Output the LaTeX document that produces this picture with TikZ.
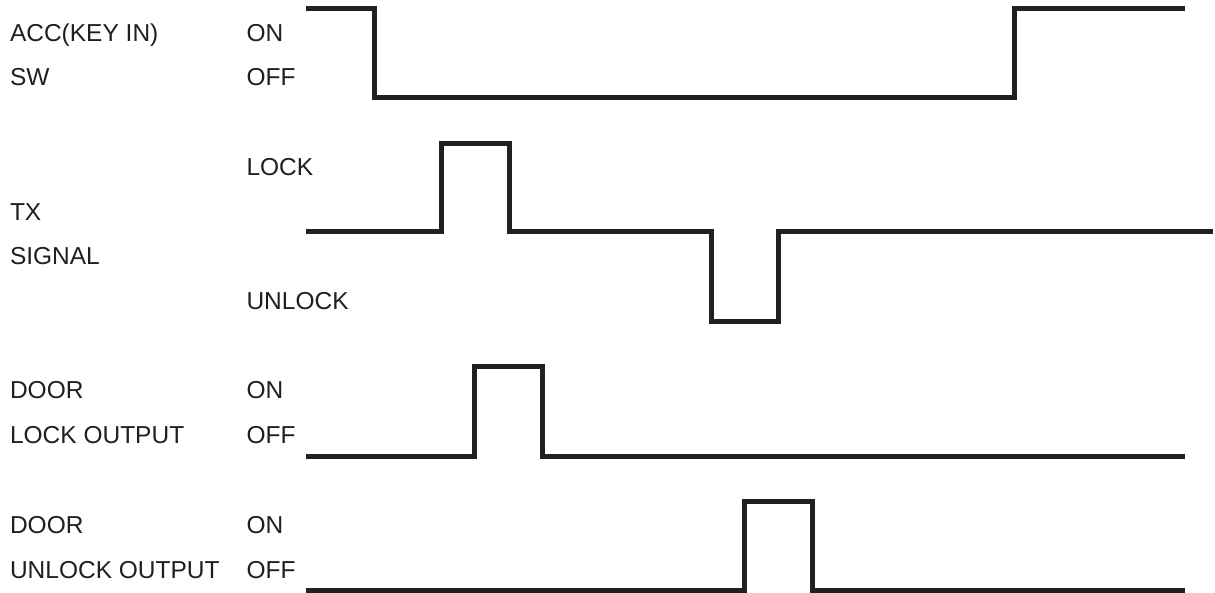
\documentclass[tikz,border=0pt]{standalone}
\usepackage{fontspec}
\setmainfont{Liberation Sans}
\begin{document}
\begin{tikzpicture}[x=1pt,y=-1pt,
  lbl/.style={anchor=base west,inner sep=0pt,outer sep=0pt,font=\fontsize{24.5}{27}\selectfont,text=black!88},
  wave/.style={line width=5pt,draw=black!87,line join=miter,line cap=butt}]
\useasboundingbox (0,0) rectangle (1215,593);
% left labels
\node[lbl] (acc) at (10,41.6) {ACC(KEY IN)};
\node[lbl] (sw) at (10,85.8) {SW};
\node[lbl] (tx) at (10,220.2) {TX};
\node[lbl] (sig) at (10,264.8) {SIGNAL};
\node[lbl] (door1) at (10,398.8) {DOOR};
\node[lbl] (lockout) at (10,443.6) {LOCK OUTPUT};
\node[lbl] (door2) at (10,533.2) {DOOR};
\node[lbl] (unlockout) at (10,578) {UNLOCK OUTPUT};
% state labels
\node[lbl] (on1) at (246.5,41.6) {ON};
\node[lbl] (off1) at (246.5,85.8) {OFF};
\node[lbl] (lock) at (246.5,175.2) {LOCK};
\node[lbl] (unlock) at (246.5,309.7) {UNLOCK};
\node[lbl] (on2) at (246.5,398.8) {ON};
\node[lbl] (off2) at (246.5,443.6) {OFF};
\node[lbl] (on3) at (246.5,533.2) {ON};
\node[lbl] (off3) at (246.5,578) {OFF};
% waveforms
\draw[wave] (306,8.5) -- (374,8.5) -- (374,98) -- (1014,98) -- (1014,8.5) -- (1185,8.5);
\draw[wave] (306,232) -- (441,232) -- (441,143.5) -- (509,143.5) -- (509,232) -- (711,232) -- (711,322) -- (778,322) -- (778,232) -- (1213,232);
\draw[wave] (306,456) -- (474.5,456) -- (474.5,367) -- (542,367) -- (542,456) -- (1185,456);
\draw[wave] (306,590) -- (744,590) -- (744,501) -- (812,501) -- (812,590) -- (1185,590);
\end{tikzpicture}
\end{document}
